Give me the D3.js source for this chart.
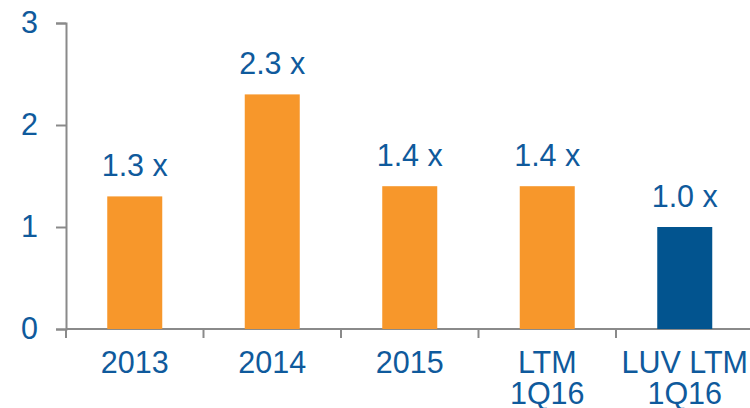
<!DOCTYPE html>
<html lang="en">
<head>
<meta charset="utf-8">
<title>Leverage multiple</title>
<script src="https://d3js.org/d3.v7.min.js"></script>
<style>
  body { margin: 0; background: #fff; }
  text { font-family: Arial, "Liberation Sans", sans-serif; fill: #0f5a9c; }
</style>
</head>
<body>
<script>
// chart data
var categories = ["2013", "2014", "2015", "LTM\n1Q16", "LUV LTM\n1Q16"];
var values = [1.3, 2.3, 1.4, 1.4, 1.0];
var valueLabels = ["1.3 x", "2.3 x", "1.4 x", "1.4 x", "1.0 x"];
var barColors = ["#f7972b", "#f7972b", "#f7972b", "#f7972b", "#02548f"];
var yTicks = [0, 1, 2, 3];

var w = 750, h = 408;
var fontSize = 30.5;

var svg = d3.select("body").append("svg")
  .attr("width", w)
  .attr("height", h);

var x = d3.scaleBand()
  .domain(categories)
  .range([66, 753.5])
  .paddingInner(0.6)
  .paddingOuter(0.3);

var y = d3.scaleLinear()
  .domain([0, 3])
  .range([329, 23]);

var axisColor = "#8a8a8a";

// y axis
var yAxis = svg.append("g")
  .attr("transform", "translate(66,0)")
  .call(d3.axisLeft(y).tickValues(yTicks).tickSize(10).tickPadding(18).tickFormat(d3.format("d")));
yAxis.select(".domain").attr("stroke", axisColor).attr("stroke-width", 2);
yAxis.selectAll(".tick line").attr("stroke", axisColor).attr("stroke-width", 2);
yAxis.selectAll(".tick text")
  .style("font-size", fontSize + "px")
  .attr("fill", "#0f5a9c");

// x axis: line + ticks at band boundaries
var step = x.step();
var bounds = d3.range(categories.length + 1).map(function(i) { return 66 + i * step; });
svg.append("line")
  .attr("x1", 66).attr("x2", w)
  .attr("y1", y(0)).attr("y2", y(0))
  .attr("stroke", axisColor).attr("stroke-width", 2);
svg.selectAll(".xtick")
  .data(bounds)
  .enter().append("line")
  .attr("class", "xtick")
  .attr("x1", function(d) { return d; }).attr("x2", function(d) { return d; })
  .attr("y1", y(0)).attr("y2", y(0) + 9)
  .attr("stroke", axisColor).attr("stroke-width", 2);

// bars
svg.selectAll(".bar")
  .data(values)
  .enter().append("rect")
  .attr("class", "bar")
  .attr("x", function(d, i) { return x(categories[i]); })
  .attr("width", x.bandwidth())
  .attr("y", function(d) { return y(d); })
  .attr("height", function(d) { return y(0) - y(d); })
  .attr("fill", function(d, i) { return barColors[i]; });

// value labels
svg.selectAll(".vlabel")
  .data(values)
  .enter().append("text")
  .attr("class", "vlabel")
  .attr("x", function(d, i) { return x(categories[i]) + x.bandwidth() / 2; })
  .attr("y", function(d) { return y(d) - 20; })
  .attr("text-anchor", "middle")
  .style("font-size", fontSize + "px")
  .text(function(d, i) { return valueLabels[i]; });

// category labels
var cat = svg.selectAll(".clabel")
  .data(categories)
  .enter().append("text")
  .attr("class", "clabel")
  .attr("text-anchor", "middle")
  .style("font-size", fontSize + "px");
cat.each(function(d) {
  var lines = d.split("\n");
  var t = d3.select(this);
  lines.forEach(function(l, j) {
    t.append("tspan")
      .attr("x", x(d) + x.bandwidth() / 2)
      .attr("y", 373 + j * 31)
      .text(l);
  });
});
</script>
</body>
</html>
